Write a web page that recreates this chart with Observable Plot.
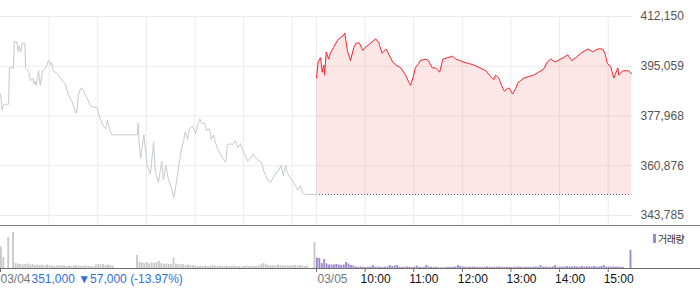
<!DOCTYPE html>
<html><head><meta charset="utf-8">
<script src="https://cdn.jsdelivr.net/npm/d3@7"></script>
<script src="https://cdn.jsdelivr.net/npm/@observablehq/plot@0.6"></script>
<style>
body{margin:0;background:#fff;}
#chart{position:relative;width:700px;height:289px;overflow:hidden;font-family:"Liberation Sans",Arial,sans-serif;}
#chart svg{position:absolute;left:0;overflow:visible;background:none;}
#legend{position:absolute;left:653px;top:231px;font:10px "Noto Sans CJK KR",sans-serif;color:#333;display:flex;align-items:center;letter-spacing:-0.5px;}
#legend i{display:inline-block;width:3px;height:9px;background:#9d86c9;margin-right:2px;}
</style></head>
<body><div id="chart"><div id="legend"><i></i>거래량</div></div>
<script>
// ---- data ----
const prevClose = 351000;
const yTicks = [343785, 360876, 377968, 395059, 412150];
const hourLabels = ["10:00","11:00","12:00","13:00","14:00","15:00"];
const dayLabels = ["03/04","03/05"];
const changeLabel = "351,000 ▼57,000 (-13.97%)";
const legendLabel = "거래량";

const day1Time = ["09:00","09:02","09:04","09:10","09:11","09:16","09:17","09:20","09:22","09:23",
"09:25","09:27","09:30","09:31","09:35","09:37","09:40","09:41","09:43","09:44",
"09:47","09:49","09:52","09:56","09:59","10:02","10:03","10:05","10:10","10:14",
"10:18","10:20","10:24","10:29","10:33","10:34","10:36","10:39","10:41","10:44",
"10:47","10:51","10:55","10:59","11:00","11:03","11:07","11:10","11:12","11:15",
"11:18","11:49","11:50","11:51","11:53","11:57","12:01","12:05","12:09","12:11",
"12:15","12:19","12:21","12:24","12:27","12:30","12:34","12:37","12:40","12:43",
"12:46","12:48","12:51","12:53","12:57","13:01","13:03","13:06","13:08","13:12",
"13:14","13:18","13:20","13:23","13:25","13:29","13:34","13:38","13:40","13:44",
"13:46","13:50","13:53","13:56","13:59","14:02","14:05","14:09","14:12","14:15",
"14:19","14:22","14:25","14:27","14:30","14:33","14:37","14:40","14:43","14:46",
"14:49","14:52","14:54","14:58","15:02","15:04","15:07","15:10","15:13","15:17","15:30"];
const day1Price = [385500,380000,382000,382000,394500,394500,403500,403500,400000,402000,
400000,403000,403000,394500,393000,390000,391000,389000,390000,388500,
393500,388500,393500,394500,397000,395500,396500,393500,392500,391000,
389500,389000,385000,382500,379000,379000,385000,387500,387500,385500,
384000,381500,381000,381000,380000,377000,374500,373500,376500,373000,
371500,371500,375500,369000,363500,371500,361000,358000,369000,359000,
355000,362500,356000,361000,356500,354000,350000,355000,361000,366000,
369500,372500,370000,373500,374500,372000,374500,377000,375500,375500,
373000,373500,370000,371500,369000,366000,363500,362000,368000,368500,
368000,369500,367000,368500,366000,364500,362500,363500,365000,363500,
362500,362000,359000,357500,356000,355000,357000,358500,359000,361000,
357500,361000,358500,356500,355000,354000,352500,354000,351500,351000,351000];

const day2Time = ["09:00","09:02","09:05","09:07","09:09","09:10","09:12","09:15","09:17","09:21",
"09:26","09:30","09:33","09:35","09:38","09:42","09:46","09:49","09:53","09:57",
"10:00","10:07","10:13","10:17","10:21","10:26","10:34","10:38","10:44","10:50",
"10:54","10:56","10:59","11:02","11:06","11:08","11:15","11:18","11:23","11:27",
"11:32","11:36","11:42","11:48","11:52","11:57","12:01","12:08","12:14","12:22",
"12:29","12:35","12:39","12:41","12:45","12:50","12:52","12:56","12:58","13:02",
"13:06","13:09","13:16","13:22","13:28","13:34","13:40","13:45","13:49","13:55",
"14:01","14:05","14:10","14:15","14:20","14:26","14:35","14:41","14:47","14:53",
"14:56","14:59","15:03","15:07","15:09","15:12","15:13","15:18","15:25","15:29"];
const day2Price = [391000,396500,398000,393000,395500,392000,400000,397500,399500,401500,
404000,405000,405500,406500,400500,397000,401500,403000,403000,400500,
401500,403000,404500,403000,399500,401000,396500,395500,394500,392000,
389500,388500,391000,394500,396000,397000,397500,397000,394500,394500,
393000,397500,398000,398500,397500,397000,396500,396000,395500,394500,
393500,391500,390500,392000,391000,387500,386500,387500,387500,385500,
387500,389500,391000,391500,392000,393000,394000,396500,397500,396500,
397500,398000,399000,397000,398000,399500,401000,400000,401000,401000,
399500,396000,395000,391000,392500,394500,392000,393500,393500,392500];

// volume, 3-minute buckets from 09:00 to 15:30
const day1Vol = [2150,1100,0,3100,0,3600,500,450,400,350,
400,450,350,400,300,350,300,350,250,350,
300,250,200,250,250,300,250,200,250,200,
250,300,250,200,250,250,200,200,150,350,
400,350,400,300,350,300,250,0,0,0,
0,0,0,0,0,0,1300,600,550,500,
600,450,550,500,600,700,500,400,450,400,
400,1000,450,400,350,400,300,350,300,300,
250,200,250,200,250,200,200,300,250,200,
250,200,200,250,200,200,250,200,200,150,
200,250,200,200,200,200,250,350,500,350,
300,250,300,250,350,300,250,300,250,250,
300,300,250,300,250,200,250,0,0,2600];
const day2Vol = [1050,1000,500,900,450,350,350,350,400,350,
300,350,600,450,300,250,150,120,150,120,
100,120,150,300,120,150,120,100,120,150,
300,200,250,300,120,100,120,150,120,100,
120,250,120,100,120,300,150,120,100,120,
60,60,60,100,120,100,120,150,300,200,
150,120,100,120,150,120,120,100,120,120,
150,120,100,120,120,150,120,100,120,120,
100,120,120,150,120,100,120,120,100,120,
150,120,300,120,150,120,120,150,300,120,
120,150,150,200,150,150,200,150,150,200,
150,200,150,150,200,150,150,200,300,150,
150,120,150,120,150,120,100,0,0,1800];

// ---- build ----
const toMin = (t, day) => day * 390 + (+t.slice(0, 2) - 9) * 60 + (+t.slice(3));
const d1 = day1Time.map((t, i) => ({x: toMin(t, 0), price: day1Price[i]}));
const d2 = day2Time.map((t, i) => ({x: toMin(t, 1), price: day2Price[i]}));
const v1 = day1Vol.map((v, i) => ({x: i * 3, v}));
const v2 = day2Vol.map((v, i) => ({x: 390 + i * 3, v}));
const hours = hourLabels.map((h) => ({x: toMin(h, 1), text: h}));
const gridMins = [60,120,180,240,300,360,390,450,510,570,630,690,750];
const yMin = 340350;

const font = {fontFamily: '"Liberation Sans", Arial, sans-serif', fontSize: "12px", background: "none"};

const main = Plot.plot({
  width: 700, height: 226, marginTop: 16, marginBottom: 1, marginLeft: 0, marginRight: 68,
  style: font,
  x: {domain: [0, 780], axis: null},
  y: {domain: [yMin, 412150], axis: null},
  marks: [
    Plot.gridX(gridMins, {stroke: "#ebebeb", strokeOpacity: 1}),
    Plot.gridY(yTicks, {stroke: "#ebebeb", strokeOpacity: 1}),
    Plot.areaY(d2, {x: "x", y1: () => prevClose, y2: "price", fill: "#f5303a", fillOpacity: 0.12}),
    Plot.ruleY([prevClose], {x1: d2[0].x, x2: d2[d2.length - 1].x, stroke: "#555", strokeDasharray: "1,2"}),
    Plot.lineY(d1, {x: "x", y: "price", stroke: "#c6c9ce", strokeWidth: 1}),
    Plot.lineY(d2, {x: "x", y: "price", stroke: "#f2262e", strokeWidth: 1}),
    Plot.axisY(yTicks, {anchor: "right", label: null, tickSize: 0, tickPadding: 8, tickFormat: d3.format(","), fill: "#555", fontSize: 12}),
    Plot.ruleY([yMin], {stroke: "#7a7a7a", insetRight: -68})
  ]
});
main.style.top = "0px";

const vol = Plot.plot({
  width: 700, height: 63, marginTop: 2, marginBottom: 21, marginLeft: 0, marginRight: 68,
  style: font,
  x: {domain: [0, 780], axis: null},
  y: {domain: [0, 4000], axis: null},
  marks: [
    Plot.rectY(v1, {x1: "x", x2: (d) => d.x + 3, y: "v", fill: "#c8c8c8", insetRight: 0.6}),
    Plot.rectY(v2, {x1: "x", x2: (d) => d.x + 3, y: "v", fill: "#9d86c9", insetRight: 0.6}),
    Plot.ruleY([0], {stroke: "#6e6e6e", insetRight: -68}),
    Plot.ruleX([0, 390, ...hours.map((d) => d.x)], {y1: 0, y2: -400, stroke: "#6e6e6e"}),
    Plot.text([dayLabels[0]], {x: 0, frameAnchor: "bottom", dy: 14.5, textAnchor: "start", fill: "#777", text: (d) => d}),
    Plot.text([changeLabel], {x: 0, frameAnchor: "bottom", dy: 14.5, dx: 31, textAnchor: "start", fill: "#2f6fdc", text: (d) => d}),
    Plot.text([dayLabels[1]], {x: 390, frameAnchor: "bottom", dy: 14.5, dx: 1, textAnchor: "start", fill: "#777", text: (d) => d}),
    Plot.text(hours, {x: "x", text: "text", frameAnchor: "bottom", dy: 14.5, dx: -4.5, textAnchor: "start", fill: "#111"})
  ]
});
vol.style.top = "226px";

const chart = document.getElementById("chart");
chart.appendChild(main);
chart.appendChild(vol);
</script>
</body></html>
